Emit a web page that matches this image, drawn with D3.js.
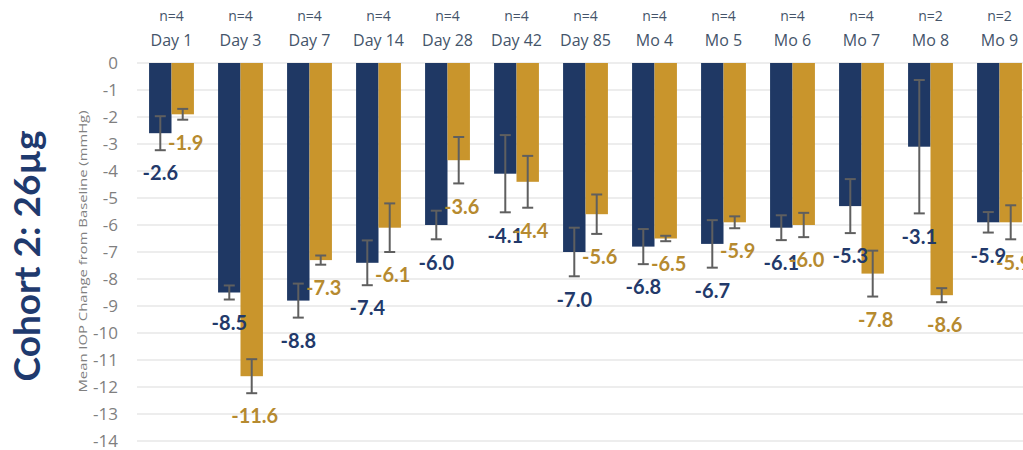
<!DOCTYPE html>
<html>
<head>
<meta charset="utf-8">
<script src="https://cdn.jsdelivr.net/npm/d3@7"></script>
<style>
  html, body { margin: 0; padding: 0; background: #fff; }
  svg { display: block; }
</style>
</head>
<body>
<svg id="chart" width="1023" height="450"></svg>
<script>
const categories = ["Day 1","Day 3","Day 7","Day 14","Day 28","Day 42","Day 85","Mo 4","Mo 5","Mo 6","Mo 7","Mo 8","Mo 9"];
const nLabels = ["n=4","n=4","n=4","n=4","n=4","n=4","n=4","n=4","n=4","n=4","n=4","n=2","n=2"];
const seriesNames = ["navy","gold"];
const navyValues = [-2.6,-8.5,-8.8,-7.4,-6.0,-4.1,-7.0,-6.8,-6.7,-6.1,-5.3,-3.1,-5.9];
const goldValues = [-1.9,-11.6,-7.3,-6.1,-3.6,-4.4,-5.6,-6.5,-5.9,-6.0,-7.8,-8.6,-5.9];
const navyErrors = [0.63,0.26,0.63,0.83,0.53,1.43,0.9,0.65,0.88,0.46,1.0,2.47,0.38];
const goldErrors = [0.2,0.63,0.17,0.9,0.86,0.96,0.73,0.1,0.22,0.45,0.85,0.26,0.63];
const yTicks = [0,-1,-2,-3,-4,-5,-6,-7,-8,-9,-10,-11,-12,-13,-14];
const yTitle = "Mean IOP Change from Baseline (mmHg)";
const chartTitle = "Cohort 2: 26µg";

const colors = { navy: "#1f3864", gold: "#c9952c" };
const labelColors = { navy: "#22396a", gold: "#b68a2f" };

const svg = d3.select("#chart");
const plotLeft = 137, plotRight = 1034, plotTop = 63, plotBottom = 441;

const x0 = d3.scaleBand().domain(categories).range([plotLeft, plotRight])
  .paddingInner(0.35).paddingOuter(0.175);
const x1 = d3.scaleBand().domain(seriesNames).range([0, x0.bandwidth()]).padding(0);
const y = d3.scaleLinear().domain([-14, 0]).range([plotBottom, plotTop]);

// gridlines
svg.append("g").selectAll("line").data(yTicks).join("line")
  .attr("x1", plotLeft).attr("x2", 1023)
  .attr("y1", d => y(d)).attr("y2", d => y(d))
  .attr("stroke", "#dcdcdc").attr("stroke-width", 1.2);

// y axis labels
const yAxis = d3.axisLeft(y).tickValues(yTicks).tickFormat(d => String(d)).tickSize(0).tickPadding(0);
const gy = svg.append("g").attr("transform", "translate(118,0)").call(yAxis);
gy.select(".domain").remove();
gy.selectAll("text").attr("font-family", "Open Sans, sans-serif").attr("font-size", 17)
  .attr("fill", "#7f7f7f").attr("dy", "0.32em");

// y axis title
svg.append("text")
  .attr("transform", `translate(87,${(110+393)/2}) rotate(-90)`)
  .attr("text-anchor", "middle")
  .attr("font-family", "Open Sans, sans-serif")
  .attr("font-size", 11.5)
  .attr("fill", "#808080")
  .attr("textLength", 282).attr("lengthAdjust", "spacingAndGlyphs")
  .text(yTitle);

// big title
svg.append("text")
  .attr("transform", `translate(40,256) rotate(-90)`)
  .attr("text-anchor", "middle")
  .attr("font-family", "Lato, sans-serif")
  .attr("font-weight", "bold")
  .attr("font-size", 37)
  .attr("fill", "#1f3a6e")
  .text(chartTitle);

// header labels
const header = svg.append("g");
header.selectAll("text.n").data(categories).join("text")
  .attr("class", "n")
  .attr("x", d => x0(d) + x0.bandwidth()/2).attr("y", 21)
  .attr("text-anchor", "middle")
  .attr("font-family", "Open Sans, sans-serif").attr("font-size", 14)
  .attr("fill", "#44546a")
  .text((d, i) => nLabels[i]);
header.selectAll("text.cat").data(categories).join("text")
  .attr("class", "cat")
  .attr("x", d => x0(d) + x0.bandwidth()/2).attr("y", 46)
  .attr("text-anchor", "middle")
  .attr("font-family", "Open Sans, sans-serif").attr("font-size", 16)
  .attr("fill", "#44546a")
  .text(d => d);

const data = categories.map((c, i) => ({
  cat: c,
  items: [
    { s: "navy", v: navyValues[i], e: navyErrors[i] },
    { s: "gold", v: goldValues[i], e: goldErrors[i] }
  ]
}));

const groups = svg.append("g").selectAll("g").data(data).join("g")
  .attr("transform", d => `translate(${x0(d.cat)},0)`);

// bars
groups.selectAll("rect").data(d => d.items).join("rect")
  .attr("x", d => x1(d.s)).attr("width", x1.bandwidth())
  .attr("y", y(0)).attr("height", d => y(d.v) - y(0))
  .attr("fill", d => colors[d.s]);

// error bars
const eb = groups.selectAll("g.err").data(d => d.items).join("g").attr("class", "err")
  .attr("stroke", "#5f5f5f").attr("stroke-width", 2);
eb.append("line")
  .attr("x1", d => x1(d.s) + x1.bandwidth()/2).attr("x2", d => x1(d.s) + x1.bandwidth()/2)
  .attr("y1", d => y(d.v + d.e)).attr("y2", d => y(d.v - d.e));
eb.append("line")
  .attr("x1", d => x1(d.s) + x1.bandwidth()/2 - 5.5).attr("x2", d => x1(d.s) + x1.bandwidth()/2 + 5.5)
  .attr("y1", d => y(d.v + d.e)).attr("y2", d => y(d.v + d.e));
eb.append("line")
  .attr("x1", d => x1(d.s) + x1.bandwidth()/2 - 5.5).attr("x2", d => x1(d.s) + x1.bandwidth()/2 + 5.5)
  .attr("y1", d => y(d.v - d.e)).attr("y2", d => y(d.v - d.e));

// value labels
groups.selectAll("text.val").data(d => d.items).join("text")
  .attr("class", "val")
  .attr("x", d => x1(d.s) + x1.bandwidth()/2 + (d.s === "gold" ? 3 : 0))
  .attr("y", d => y(d.v - d.e) + 23)
  .attr("dy", "0.36em")
  .attr("text-anchor", "middle")
  .attr("font-family", "Lato, sans-serif").attr("font-weight", "bold")
  .attr("font-size", 20)
  .attr("fill", d => labelColors[d.s])
  .text(d => d.v.toFixed(1));
</script>
</body>
</html>
